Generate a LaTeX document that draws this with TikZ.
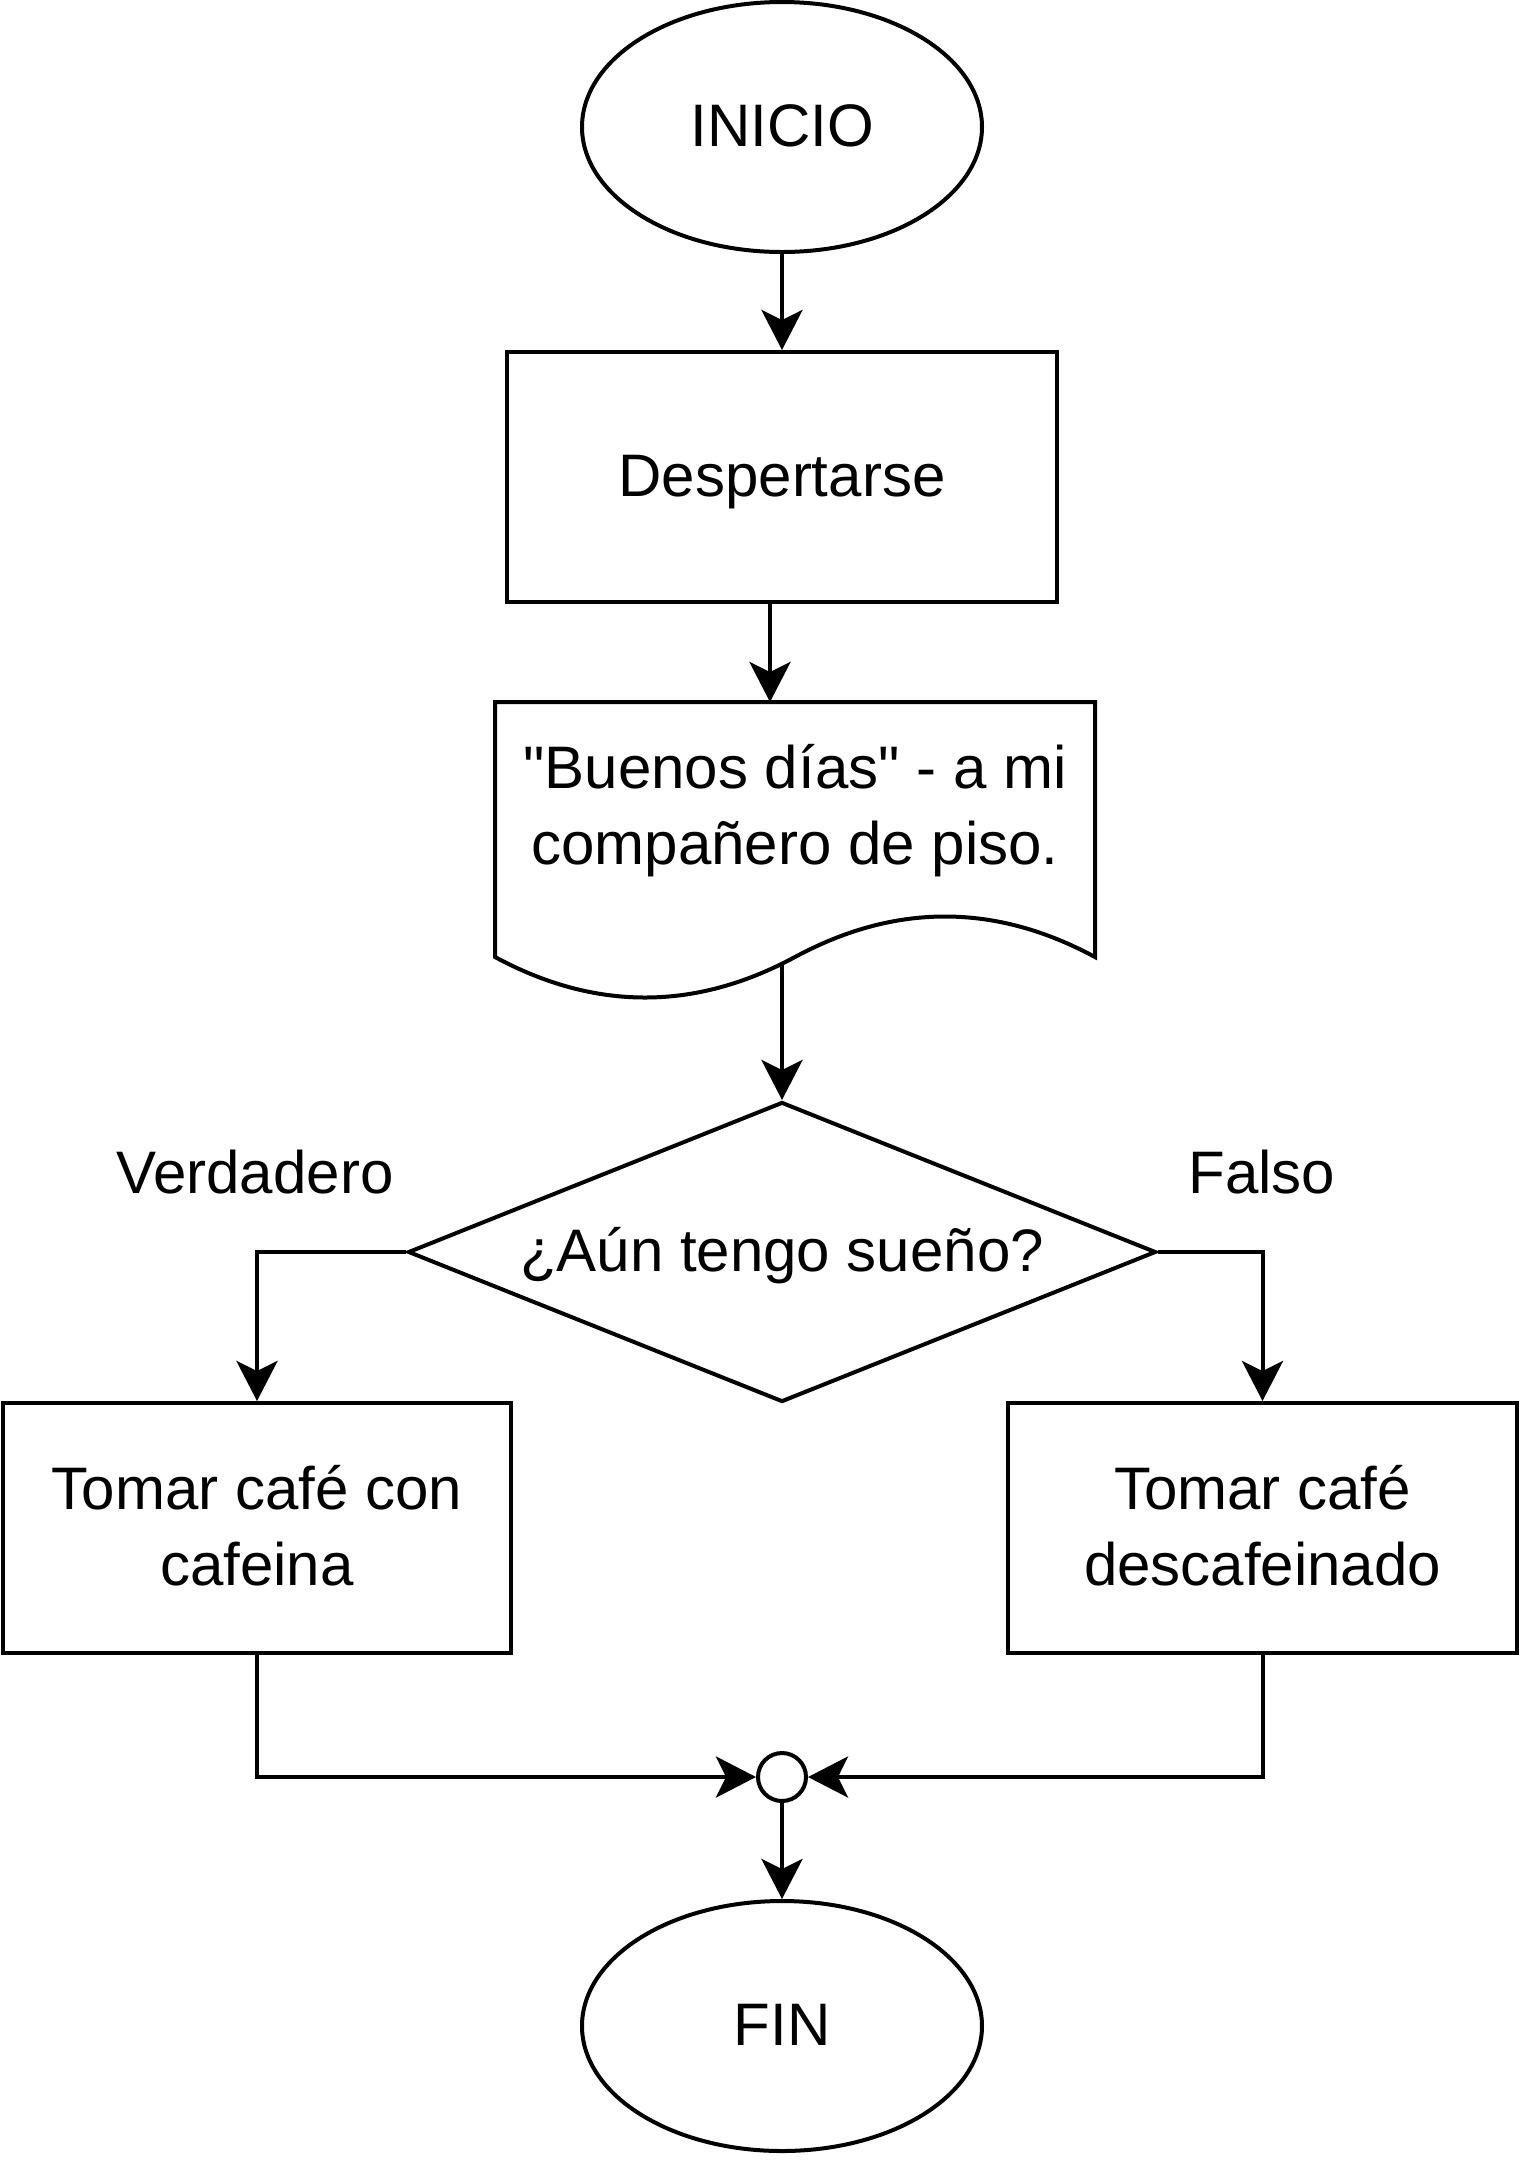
\documentclass[tikz,border=0pt]{standalone}
\usepackage{fontspec}
\newfontfamily\lsans{Liberation Sans}
\usetikzlibrary{shapes.geometric,arrows.meta}
\newcommand\lstrut{\rule[-9.25pt]{0pt}{38pt}}
\tikzset{
  base/.style={draw=black, line width=2pt, inner sep=0pt, align=center,
    font=\lsans\fontsize{30pt}{38pt}\selectfont},
  term/.style={base, ellipse, minimum width=200pt, minimum height=125pt},
  proc/.style={base, rectangle, minimum height=125pt},
  dec/.style={base, diamond, aspect=2.49, minimum width=374pt, minimum height=150pt},
  junction/.style={draw=black, line width=2pt, circle, inner sep=0pt, minimum size=24pt},
  lbl/.style={inner sep=0pt, font=\lsans\fontsize{30pt}{38pt}\selectfont},
  arr/.style={line width=2pt, -{Stealth[length=20pt,width=20.5pt,inset=5pt]}},
  ln/.style={line width=2pt},
}
\begin{document}
\begin{tikzpicture}[x=0.5pt,y=-0.5pt]
\useasboundingbox (0,0) rectangle (1520,2160);
% shapes
\node[term] (ini) at (782,127) {\lstrut INICIO};
\node[proc, minimum width=275pt] (desp) at (782,477) {\lstrut Despertarse};
% document shape
\draw[ln] (495,702) -- (1095,702) -- (1095,957)
  .. controls (995,903) and (895,903) .. (795,957)
  .. controls (695,1011) and (595,1011) .. (495,957) -- cycle;
\node[lbl, align=center] (doc) at (795,806.5) {\lstrut"Buenos días" - a mi\\\lstrut compañero de piso.};
\coordinate (doctop) at (770,702);
\coordinate (docwave) at (782,964);
\node[dec] (q) at (782,1252) {\lstrut ¿Aún tengo sueño?};
\node[proc, minimum width=254pt] (tl) at (257,1528) {\lstrut Tomar café con\\\lstrut cafeina};
\node[proc, minimum width=254.5pt] (tr) at (1262.5,1528) {\lstrut Tomar café\\\lstrut descafeinado};
\node[junction] (m) at (782,1777) {};
\node[term] (fin) at (782,2026) {\lstrut FIN};
% labels
\node[lbl, anchor=base] (vlab) at (255,1193) {Verdadero};
\node[lbl, anchor=base] (flab) at (1262,1193) {Falso};
% connectors
\draw[arr] (ini.south) -- (desp.south |- desp.north);
\draw[arr] ([xshift=-6pt]desp.south) -- (doctop);
\draw[arr] (docwave) -- (q.north);
\draw[arr] (q.west) -| (tl.north);
\draw[arr] (q.east) -| (tr.north);
\draw[arr] (tl.south) |- (m.west);
\draw[arr] (tr.south) |- (m.east);
\draw[arr] (m.south) -- (fin.north);
\end{tikzpicture}
\end{document}
